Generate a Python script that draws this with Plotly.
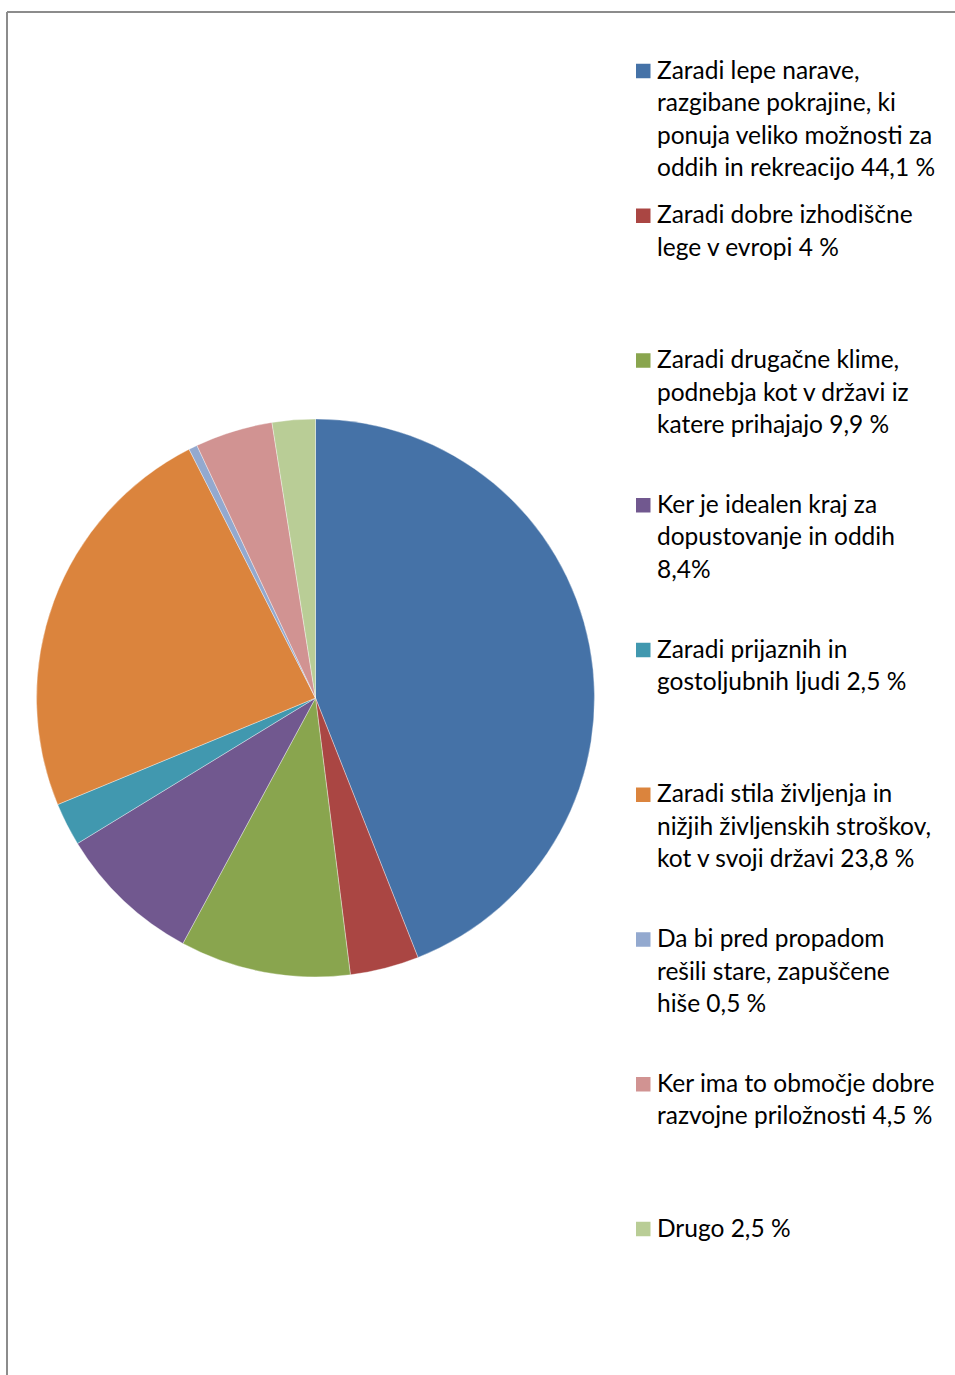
import plotly.graph_objects as go

# Survey answers: reasons for choosing the region
labels = [
    "Zaradi lepe narave, razgibane pokrajine, ki ponuja veliko možnosti za oddih in rekreacijo 44,1 %",
    "Zaradi dobre izhodiščne lege v evropi 4 %",
    "Zaradi drugačne klime, podnebja kot v državi iz katere prihajajo 9,9 %",
    "Ker je idealen kraj za dopustovanje in oddih 8,4%",
    "Zaradi prijaznih in gostoljubnih ljudi 2,5 %",
    "Zaradi stila življenja in nižjih življenskih stroškov, kot v svoji državi 23,8 %",
    "Da bi pred propadom rešili stare, zapuščene hiše 0,5 %",
    "Ker ima to območje dobre razvojne priložnosti 4,5 %",
    "Drugo 2,5 %",
]
values = [44.1, 4, 9.9, 8.4, 2.5, 23.8, 0.5, 4.5, 2.5]
colors = ["#4572A7", "#AA4643", "#89A54E", "#71588F", "#4198AF",
          "#DB843D", "#93A9CF", "#D19392", "#B9CD96"]

# Wrapped legend text, one list of lines per slice
legend_lines = [
    ["Zaradi lepe narave,", "razgibane pokrajine, ki", "ponuja veliko možnosti za", "oddih in rekreacijo 44,1 %"],
    ["Zaradi dobre izhodiščne", "lege v evropi 4 %"],
    ["Zaradi drugačne klime,", "podnebja kot v državi iz", "katere prihajajo 9,9 %"],
    ["Ker je idealen kraj za", "dopustovanje in oddih", "8,4%"],
    ["Zaradi prijaznih in", "gostoljubnih ljudi 2,5 %"],
    ["Zaradi stila življenja in", "nižjih življenskih stroškov,", "kot v svoji državi 23,8 %"],
    ["Da bi pred propadom", "rešili stare, zapuščene", "hiše 0,5 %"],
    ["Ker ima to območje dobre", "razvojne priložnosti 4,5 %"],
    ["Drugo 2,5 %"],
]

W, H = 955, 1375
FONT = "Lato"
FONT_SIZE = 24.5

# pie placement in pixels
cx, cy, r = 315.5, 698, 279

fig = go.Figure(go.Pie(
    labels=labels,
    values=values,
    sort=False,
    direction="clockwise",
    rotation=0,
    textinfo="none",
    hoverinfo="label+value",
    marker=dict(colors=colors, line=dict(color="rgba(255,255,255,0.6)", width=0.6)),
    domain=dict(x=[(cx - r) / W, (cx + r) / W], y=[1 - (cy + r) / H, 1 - (cy - r) / H]),
    showlegend=False,
))


def px(x):
    return x / W


def py(y):
    return 1 - y / H


shapes = [
    # frame edges
    dict(type="line", xref="paper", yref="paper", x0=px(7), x1=px(W + 5), y0=py(12), y1=py(12),
         line=dict(color="#8c8c8c", width=2)),
    dict(type="line", xref="paper", yref="paper", x0=px(7), x1=px(7), y0=py(12), y1=py(H + 5),
         line=dict(color="#8c8c8c", width=2)),
]
annotations = []

# legend: evenly spaced entries, square keys and wrapped text
first_y, step, line_h = 71, 144.75, 32.5
key_x0, key_size, text_x = 636, 14.5, 655
for i, (lines, col) in enumerate(zip(legend_lines, colors)):
    yc = first_y + i * step
    shapes.append(dict(type="rect", xref="paper", yref="paper",
                       x0=px(key_x0), x1=px(key_x0 + key_size),
                       y0=py(yc - key_size / 2), y1=py(yc + key_size / 2),
                       fillcolor=col, line=dict(width=0)))
    for k, txt in enumerate(lines):
        annotations.append(dict(
            xref="paper", yref="paper", x=px(text_x), y=py(yc - 2 + k * line_h),
            xanchor="left", yanchor="middle", showarrow=False, text=txt,
            font=dict(family=FONT, size=FONT_SIZE, color="#000000"),
        ))

fig.update_layout(
    width=W, height=H,
    margin=dict(l=0, r=0, t=0, b=0),
    paper_bgcolor="white", plot_bgcolor="white",
    shapes=shapes, annotations=annotations,
)

fig.write_html("out.html")
